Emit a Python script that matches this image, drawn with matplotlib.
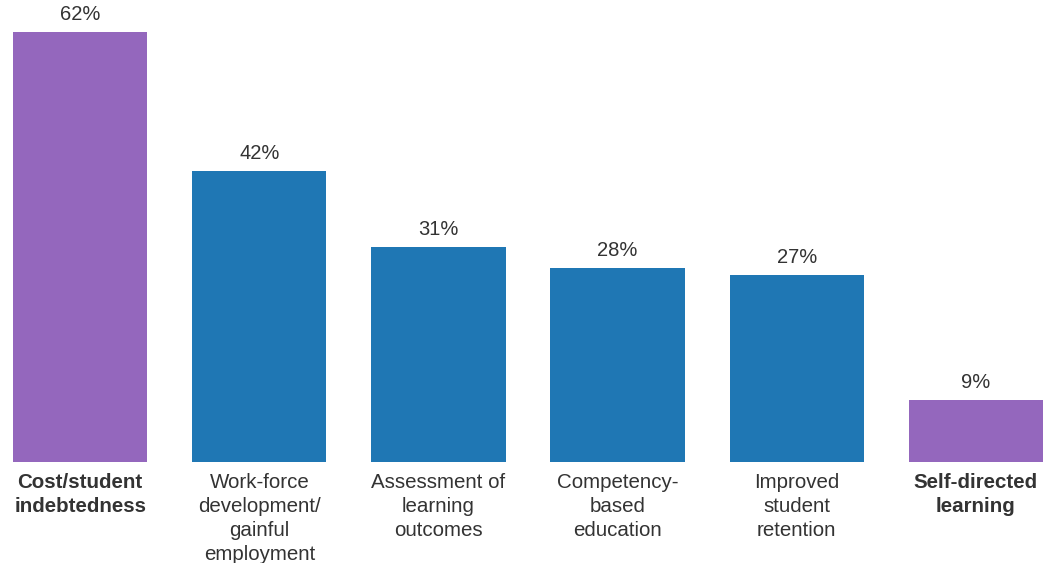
import matplotlib.pyplot as plt

# Survey results: share of respondents naming each topic
categories = [
    "Cost/student\nindebtedness",
    "Work-force\ndevelopment/\ngainful\nemployment",
    "Assessment of\nlearning\noutcomes",
    "Competency-\nbased\neducation",
    "Improved\nstudent\nretention",
    "Self-directed\nlearning",
]
values = [62, 42, 31, 28, 27, 9]
highlighted = [True, False, False, False, False, True]

PURPLE = "#9467bd"
BLUE = "#1f77b4"
TEXT = "#333333"

plt.rcParams["font.family"] = ["Liberation Sans", "DejaVu Sans"]

fig = plt.figure(figsize=(10.43, 5.63), dpi=100)
ax = fig.add_axes([13 / 1043, 101 / 563, 1030 / 1043, 430 / 563])

x = list(range(len(values)))
colors = [PURPLE if h else BLUE for h in highlighted]
bars = ax.bar(x, values, width=0.75, color=colors)

# value labels above each bar
for rect, v in zip(bars, values):
    ax.annotate(f"{v}%", (rect.get_x() + rect.get_width() / 2, v),
                xytext=(0, 8), textcoords="offset pixels",
                ha="center", va="bottom", fontsize=14.5, color=TEXT)

# category labels under the bars
for xi, label, bold in zip(x, categories, highlighted):
    ax.annotate(label, (xi, 0), xytext=(0, -11), textcoords="offset pixels",
                ha="center", va="top", fontsize=14.8, color=TEXT,
                fontweight="bold" if bold else "normal", linespacing=1.33,
                annotation_clip=False)

ax.set_xlim(-0.375, 5.375)
ax.set_ylim(0, 62)
ax.axis("off")

fig.savefig("out.png", dpi=100)
